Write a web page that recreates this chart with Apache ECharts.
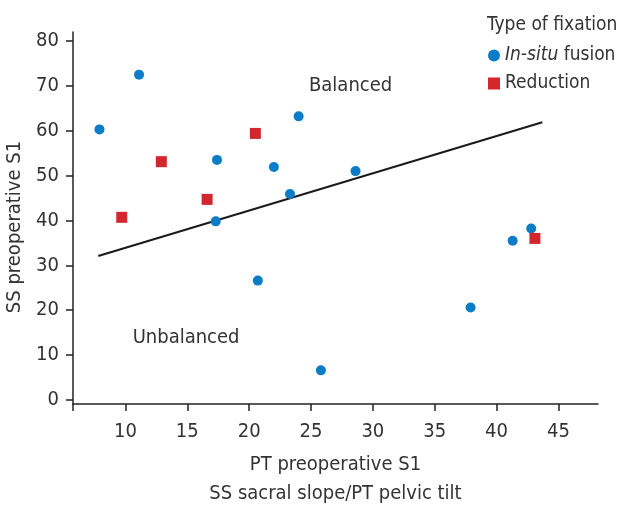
<!DOCTYPE html>
<html>
<head>
<meta charset="utf-8">
<script src="https://cdn.jsdelivr.net/npm/echarts@6/dist/echarts.min.js"></script>
<style>
  html, body { margin: 0; padding: 0; background: #fff; }
  #chart { width: 621px; height: 505px; }
</style>
</head>
<body>
<div id="chart"></div>
<script>
// PT (x) / SS (y) values
const insituPT = [7.9, 11.1, 17.4, 22.0, 24.0, 23.3, 17.3, 20.7, 25.8, 28.6, 37.9, 41.3, 42.8]
const insituSS = [60.3, 72.5, 53.5, 51.9, 63.2, 45.9, 39.8, 26.6, 6.6, 51.0, 20.6, 35.5, 38.2]
const reductionPT = [9.7, 12.9, 16.6, 20.5, 43.1]
const reductionSS = [40.7, 53.1, 44.7, 59.4, 36.0]
// fitted line end points
const fitPT = [7.8, 43.7]
const fitSS = [32.1, 61.9]

const xTicks = [10, 15, 20, 25, 30, 35, 40, 45]
const yTicks = [0, 10, 20, 30, 40, 50, 60, 70, 80]
const xMin = 5.76, xMax = 48.2
const yMin = -0.9, yMax = 82

const FONT = "'Liberation Sans Narrow', 'DejaVu Sans Condensed', sans-serif"
const TXT = '#333'

const zip = (a, b) => a.map((v, i) => [v, b[i]])

const chart = echarts.init(document.getElementById('chart'), null, { renderer: 'canvas' })

const option = {
  backgroundColor: '#fff',
  animation: false,
  textStyle: { fontFamily: FONT, color: TXT },
  title: {
    text: 'Type of fixation',
    left: 487,
    top: 16,
    padding: 0,
    textStyle: { fontFamily: FONT, fontSize: 19, fontWeight: 'normal', color: TXT }
  },
  legend: {
    orient: 'vertical',
    left: 488,
    top: 46,
    padding: 0,
    itemWidth: 12,
    itemHeight: 12,
    itemGap: 9,
    data: ['In-situ fusion', 'Reduction'],
    formatter: (name) => name === 'In-situ fusion' ? '{i|In-situ} fusion' : name,
    textStyle: {
      fontFamily: FONT,
      fontSize: 19,
      color: TXT,
      rich: {
        i: { fontFamily: FONT, fontSize: 19, fontStyle: 'italic', color: TXT }
      }
    }
  },
  grid: { left: 73, right: 23, top: 32, bottom: 101, containLabel: false, outerBoundsMode: 'none' },
  xAxis: {
    type: 'value',
    min: xMin,
    max: xMax,
    name: 'PT preoperative S1\nSS sacral slope/PT pelvic tilt',
    nameLocation: 'middle',
    nameGap: 46,
    nameTextStyle: { fontFamily: FONT, fontSize: 20, color: TXT, lineHeight: 29 },
    splitLine: { show: false },
    axisLine: { onZero: false, lineStyle: { color: '#222', width: 1.5 } },
    axisTick: { length: 7, lineStyle: { color: '#222', width: 1.5 }, customValues: [xMin].concat(xTicks) },
    axisLabel: { customValues: xTicks, margin: 18, fontFamily: FONT, fontSize: 20, color: TXT }
  },
  yAxis: {
    type: 'value',
    min: yMin,
    max: yMax,
    name: 'SS preoperative S1',
    nameLocation: 'middle',
    nameGap: 39,
    nameTextStyle: { fontFamily: FONT, fontSize: 20, color: TXT, padding: [0, 18, 0, 0] },
    splitLine: { show: false },
    axisLine: { onZero: false, lineStyle: { color: '#222', width: 1.5 } },
    axisTick: { length: 7, lineStyle: { color: '#222', width: 1.5 }, customValues: yTicks },
    axisLabel: { customValues: yTicks, margin: 14, fontFamily: FONT, fontSize: 20, color: TXT }
  },
  series: [
    {
      name: 'fit',
      type: 'line',
      data: zip(fitPT, fitSS),
      symbol: 'none',
      lineStyle: { color: '#1a1a1a', width: 2 },
      silent: true,
      z: 1
    },
    {
      name: 'In-situ fusion',
      type: 'scatter',
      symbol: 'circle',
      symbolSize: 10,
      itemStyle: { color: '#0a7cc8', opacity: 1 },
      data: zip(insituPT, insituSS),
      z: 3
    },
    {
      name: 'Reduction',
      type: 'scatter',
      symbol: 'rect',
      symbolSize: 11,
      itemStyle: { color: '#d3262d', opacity: 1 },
      data: zip(reductionPT, reductionSS),
      z: 3
    },
    {
      name: 'notes',
      type: 'scatter',
      symbolSize: 0,
      silent: true,
      itemStyle: { opacity: 1 },
      label: {
        show: true,
        position: 'inside',
        formatter: (p) => p.data.text,
        fontFamily: FONT,
        fontSize: 20,
        color: TXT,
        opacity: 1,
        textBorderWidth: 0,
        textBorderColor: 'transparent'
      },
      data: [
        { value: [28.2, 70.1], text: 'Balanced' },
        { value: [14.9, 13.8], text: 'Unbalanced' }
      ]
    }
  ]
}

chart.setOption(option)
</script>
</body>
</html>
